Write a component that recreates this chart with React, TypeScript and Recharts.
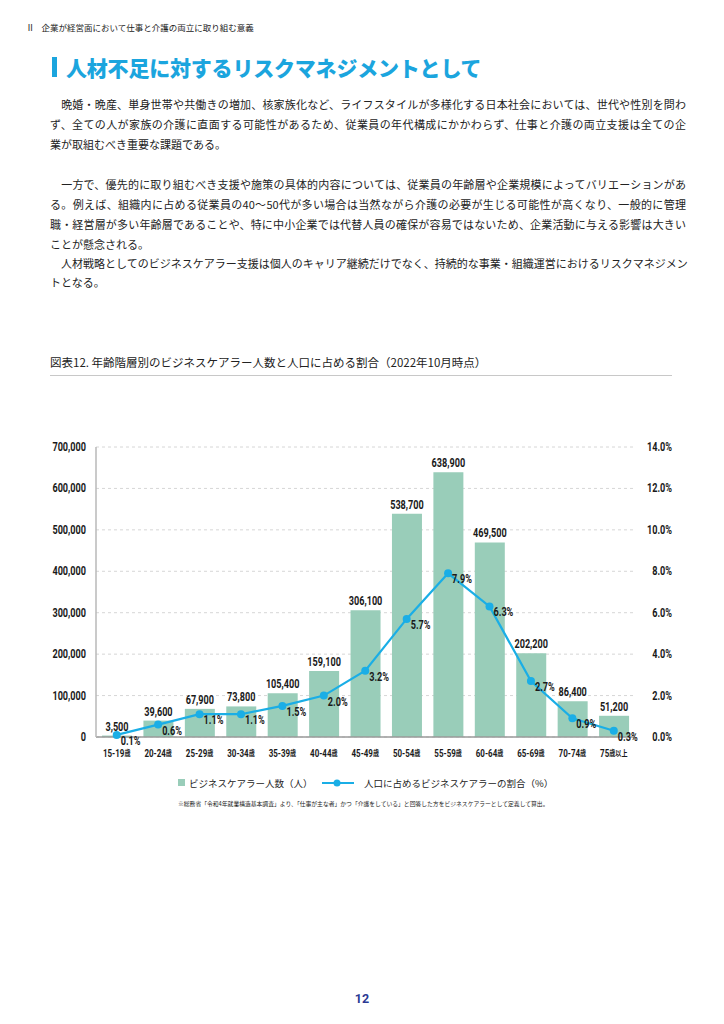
import React from 'react'
import { ComposedChart, Bar, Line, XAxis, YAxis, CartesianGrid, LabelList } from 'recharts'

// 年齢階層
const ageGroups = [
  '15-19歳', '20-24歳', '25-29歳', '30-34歳', '35-39歳', '40-44歳', '45-49歳',
  '50-54歳', '55-59歳', '60-64歳', '65-69歳', '70-74歳', '75歳以上',
]
// ビジネスケアラー人数（人）
const carerCounts = [3500, 39600, 67900, 73800, 105400, 159100, 306100, 538700, 638900, 469500, 202200, 86400, 51200]
// 人口に占めるビジネスケアラーの割合（%）
const carerRates = [0.1, 0.6, 1.1, 1.1, 1.5, 2.0, 3.2, 5.7, 7.9, 6.3, 2.7, 0.9, 0.3]

const countTicks = [0, 100000, 200000, 300000, 400000, 500000, 600000, 700000]
const rateTicks = [0, 2, 4, 6, 8, 10, 12, 14]

const bodyLines = [
  { text: '\u3000晩婚・晩産、単身世帯や共働きの増加、核家族化など、ライフスタイルが多様化する日本社会においては、世代や性別を問わ', full: true },
  { text: 'ず、全ての人が家族の介護に直面する可能性があるため、従業員の年代構成にかかわらず、仕事と介護の両立支援は全ての企', full: true },
  { text: '業が取組むべき重要な課題である。', full: false },
  { text: '\u3000一方で、優先的に取り組むべき支援や施策の具体的内容については、従業員の年齢層や企業規模によってバリエーションがあ', full: true },
  { text: 'る。例えば、組織内に占める従業員の40～50代が多い場合は当然ながら介護の必要が生じる可能性が高くなり、一般的に管理', full: true },
  { text: '職・経営層が多い年齢層であることや、特に中小企業では代替人員の確保が容易ではないため、企業活動に与える影響は大きい', full: true },
  { text: 'ことが懸念される。', full: false },
  { text: '\u3000人材戦略としてのビジネスケアラー支援は個人のキャリア継続だけでなく、持続的な事業・組織運営におけるリスクマネジメン', full: true },
  { text: 'トとなる。', full: false },
]
const bodyLineTops = [96, 116, 136, 176, 196, 216, 236, 255, 274]

const data = ageGroups.map((age, i) => ({ age, count: carerCounts[i], rate: carerRates[i] }))

const BAR_COLOR = '#99cdb9'
const LINE_COLOR = '#1aaee6'
const NUM_FONT = "'Roboto', 'Noto Sans', sans-serif"
const JP_FONT = "'Noto Sans CJK JP', 'Noto Sans', sans-serif"
const SQUEEZE = 0.76

// condensed bold number text (no narrow face installed, so squeeze horizontally)
const NarrowText = ({ x, y, anchor = 'start', baseline = 'central', size = 12, children }: any) => (
  <text transform={`translate(${x},${y}) scale(${SQUEEZE},1)`} textAnchor={anchor} dominantBaseline={baseline}
    fill="#1a1a1a" fontFamily={NUM_FONT} fontWeight="bold" fontSize={size}>
    {children}
  </text>
)

const AgeTick = ({ x, y, payload }: any) => {
  const m = String(payload.value).match(/^([\d-]+)(.*)$/)
  const num = m ? m[1] : payload.value
  const suffix = m ? m[2] : ''
  return (
    <NarrowText x={x} y={y + 16} anchor="middle" size={10.5}>
      {num}
      <tspan fontFamily={JP_FONT} fontSize={8}>{suffix}</tspan>
    </NarrowText>
  )
}

const CountTick = ({ x, y, payload }: any) => (
  <NarrowText x={x} y={y} anchor="end">{Number(payload.value).toLocaleString('en-US')}</NarrowText>
)

const RateTick = ({ x, y, payload }: any) => (
  <NarrowText x={x + 37.5} y={y} anchor="end">{Number(payload.value).toFixed(1)}%</NarrowText>
)

const CountLabel = ({ x, y, width, value }: any) => (
  <NarrowText x={x + width / 2} y={y - 5} anchor="middle" baseline="auto">
    {Number(value).toLocaleString('en-US')}
  </NarrowText>
)

const RateLabel = ({ x, y, value }: any) => (
  <NarrowText x={x + 4} y={y + 6}>{Number(value).toFixed(1)}%</NarrowText>
)

export default function App() {
  return (
    <div style={{ position: 'absolute', left: 0, top: 0, width: 724, height: 1024, background: '#fff', fontFamily: JP_FONT, color: '#222' }}>
      <div style={{ position: 'absolute', left: 26, top: 21, fontSize: 8.5, whiteSpace: 'nowrap' }}>
        <span style={{ marginRight: 7 }}>Ⅱ</span>企業が経営面において仕事と介護の両立に取り組む意義
      </div>

      <div style={{ position: 'absolute', left: 52, top: 57, width: 5, height: 20, background: '#1ba5de' }} />
      <div style={{ position: 'absolute', left: 66, top: 52, fontSize: 21, fontWeight: 900, color: '#1ba5de', whiteSpace: 'nowrap', lineHeight: '30px', letterSpacing: -0.2 }}>
        人材不足に対するリスクマネジメントとして
      </div>

      {bodyLines.map((line, i) => (
        <div key={i} style={{
          position: 'absolute', left: 50, top: bodyLineTops[i], width: 636, fontSize: 11, lineHeight: '16px',
          whiteSpace: 'nowrap', textAlign: 'justify', textAlignLast: line.full ? 'justify' : 'left',
        }}>
          {line.text}
        </div>
      ))}

      <div style={{ position: 'absolute', left: 50, top: 354, fontSize: 11.5, whiteSpace: 'nowrap', lineHeight: '16px' }}>
        図表12. 年齢階層別のビジネスケアラー人数と人口に占める割合（2022年10月時点）
      </div>
      <div style={{ position: 'absolute', left: 50, top: 375, width: 622, height: 1, background: '#c8c8c8' }} />

      <div style={{ position: 'absolute', left: 0, top: 420 }}>
        <ComposedChart width={700} height={340} data={data} margin={{ top: 27, right: 0, bottom: 0, left: 0 }}>
          <CartesianGrid yAxisId="count" vertical={false} strokeDasharray="3 3" stroke="#d6d6d6" />
          <XAxis dataKey="age" interval={0} height={23} tickLine={false} tickSize={0} tickMargin={0}
            axisLine={{ stroke: '#9a9a9a', strokeWidth: 1.5 }} tick={<AgeTick />} />
          <YAxis yAxisId="count" width={96} domain={[0, 700000]} ticks={countTicks} interval={0}
            tickLine={false} tickSize={0} tickMargin={10}
            axisLine={{ stroke: '#b8b8b8', strokeWidth: 1.5 }} tick={<CountTick />} />
          <YAxis yAxisId="rate" orientation="right" width={65.5} domain={[0, 14]} ticks={rateTicks} interval={0}
            tickLine={false} tickSize={0} tickMargin={0} axisLine={false} tick={<RateTick />} />
          <Bar yAxisId="count" dataKey="count" fill={BAR_COLOR} barSize={30} isAnimationActive={false}>
            <LabelList dataKey="count" content={<CountLabel />} />
          </Bar>
          <Line yAxisId="rate" dataKey="rate" stroke={LINE_COLOR} strokeWidth={2.2}
            dot={{ r: 4, fill: LINE_COLOR, stroke: 'none' }} activeDot={false} isAnimationActive={false}>
            <LabelList dataKey="rate" content={<RateLabel />} />
          </Line>
        </ComposedChart>
      </div>

      <div style={{ position: 'absolute', left: 178, top: 779, width: 7, height: 7, background: BAR_COLOR }} />
      <div style={{ position: 'absolute', left: 189, top: 775, fontSize: 9.5, lineHeight: '16px', whiteSpace: 'nowrap' }}>
        ビジネスケアラー人数（人）
      </div>
      <svg style={{ position: 'absolute', left: 320, top: 777 }} width={36} height={12}>
        <line x1={2} y1={6} x2={34} y2={6} stroke={LINE_COLOR} strokeWidth={2} />
        <circle cx={17} cy={6} r={3.5} fill={LINE_COLOR} />
      </svg>
      <div style={{ position: 'absolute', left: 364, top: 775, fontSize: 9.5, lineHeight: '16px', whiteSpace: 'nowrap' }}>
        人口に占めるビジネスケアラーの割合（%）
      </div>

      <div style={{ position: 'absolute', left: 178, top: 797, fontSize: 11.6, lineHeight: '24px', whiteSpace: 'nowrap', transform: 'scale(0.5)', transformOrigin: '0 0' }}>
        ※総務省「令和4年就業構造基本調査」より、「仕事が主な者」かつ「介護をしている」と回答した方をビジネスケアラーとして定義して算出。
      </div>

      <div style={{ position: 'absolute', left: 0, width: 724, top: 991, textAlign: 'center', fontSize: 12.5, fontWeight: 'bold', color: '#2b3a93', fontFamily: "'Roboto', sans-serif" }}>
        12
      </div>
    </div>
  )
}
